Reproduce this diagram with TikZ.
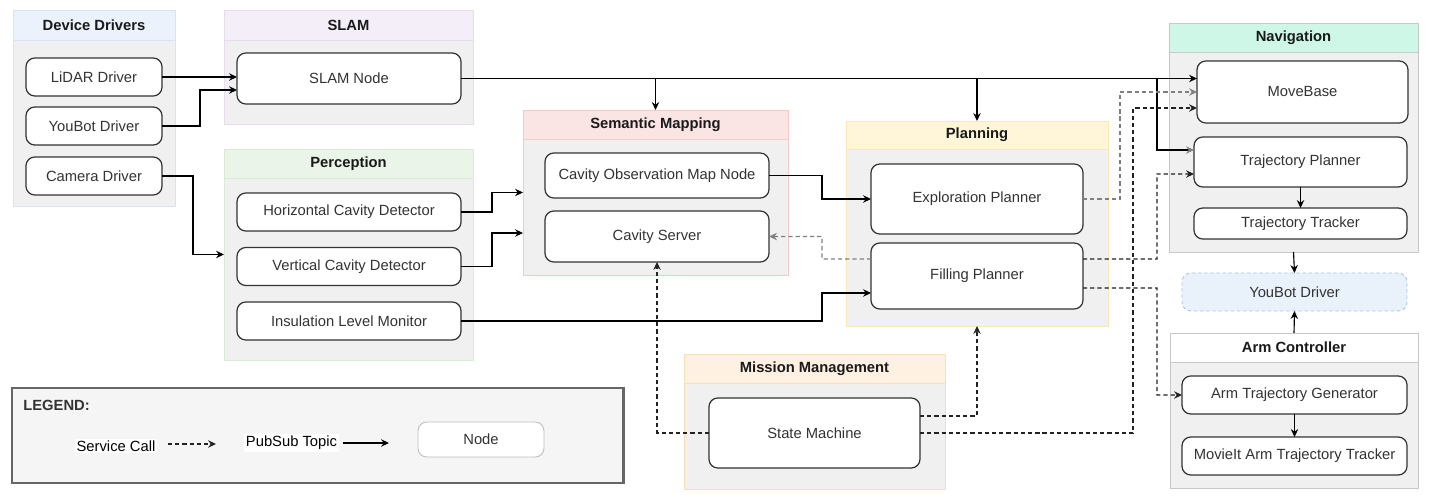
\documentclass[tikz,border=0pt]{standalone}
\usepackage{fontspec}
\setmainfont{Liberation Sans}
\usepackage{xcolor}
\usetikzlibrary{arrows.meta, positioning, calc}

\definecolor{bodygray}{HTML}{F0F0F0}
\definecolor{textgray}{HTML}{333333}
\definecolor{titlegray}{HTML}{1A1A1A}
\definecolor{nodeline}{HTML}{333333}
\definecolor{dashgray}{HTML}{222222}
\definecolor{ddhead}{HTML}{EBF2FC}
\definecolor{ddline}{HTML}{D6E4F7}
\definecolor{slamhead}{HTML}{F3EEF7}
\definecolor{slamline}{HTML}{E6DCEB}
\definecolor{perchead}{HTML}{EAF4E8}
\definecolor{percline}{HTML}{D9EAD5}
\definecolor{semhead}{HTML}{FBE4E4}
\definecolor{semline}{HTML}{F5C9C8}
\definecolor{planhead}{HTML}{FFF6DA}
\definecolor{planline}{HTML}{F9E9B8}
\definecolor{mishead}{HTML}{FFF1E2}
\definecolor{misline}{HTML}{F9DFB8}
\definecolor{navhead}{HTML}{CFF7E8}
\definecolor{grpline}{HTML}{C8C8C8}
\definecolor{ybfill}{HTML}{E9F1FB}
\definecolor{ybline}{HTML}{A9C4EB}
\definecolor{legendfill}{HTML}{F5F5F5}
\definecolor{legendline}{HTML}{666666}

\newcommand{\diagfont}{\fontsize{8.4}{10}\selectfont}

\tikzstyle{groupbox} = [
  rectangle, draw=grpline, fill=bodygray, line width=0.5pt,
  inner sep=0pt, outer sep=0pt
]
\tikzstyle{header} = [
  rectangle, draw=grpline, line width=0.5pt, anchor=north,
  minimum height=0.58cm, inner sep=0pt, outer sep=0pt,
  font=\diagfont\bfseries, text=titlegray
]
\tikzstyle{rosnode} = [
  rectangle, draw=nodeline, fill=white, line width=0.7pt,
  rounded corners=5pt, inner sep=0pt, outer sep=0pt,
  font=\diagfont, text=textgray
]
\tikzstyle{pubsub} = [-{Stealth[length=4.5pt, width=4.2pt]}, line width=0.65pt, black]
\tikzstyle{service} = [pubsub, line width=0.6pt, dash pattern=on 2.4pt off 1.7pt, draw=dashgray]

\begin{document}
\begin{tikzpicture}
  \useasboundingbox (0,0) rectangle (28.58,-10);

  % Legend
  \node[rectangle, draw=legendline, fill=legendfill, line width=1.7pt,
        minimum width=12.22cm, minimum height=1.9cm] (legend) at (6.35,-8.71) {};
  \node[anchor=west, inner sep=0pt, font=\diagfont\bfseries, text=textgray]
    (legendtitle) at (0.46,-8.1) {LEGEND:};
  \node[fill=white, inner sep=1pt, font=\diagfont, text=black] (svclabel) at (2.32,-8.92) {Service Call};
  \node[fill=white, inner sep=1pt, font=\diagfont, text=black] (pslabel) at (5.83,-8.86) {PubSub Topic};
  \coordinate (svcstart) at (3.36,-8.88);
  \coordinate (svcend) at (4.32,-8.88);
  \coordinate (psstart) at (6.86,-8.86);
  \coordinate (psend) at (7.78,-8.86);
  \node[rosnode, draw=gray!50, line width=0.5pt, minimum width=2.52cm, minimum height=0.7cm]
    (legendnode) at (9.62,-8.79) {Node};
  \draw[service] (svcstart) -- (svcend);
  \draw[pubsub] (psstart) -- (psend);

  % Device Drivers
  \node[groupbox, draw=ddline, minimum width=3.24cm, minimum height=3.92cm] (drivers) at (1.88,-2.16) {};
  \node[header, fill=ddhead, draw=ddline, minimum width=3.24cm, minimum height=0.6cm]
    (driverstitle) at (drivers.north) {Device Drivers};
  \node[rosnode, minimum width=2.72cm, minimum height=0.76cm] (lidar) at (1.88,-1.54) {LiDAR Driver};
  \node[rosnode, minimum width=2.72cm, minimum height=0.76cm] (youbot) at (1.88,-2.52) {YouBot Driver};
  \node[rosnode, minimum width=2.72cm, minimum height=0.76cm] (camera) at (1.88,-3.52) {Camera Driver};

  % SLAM
  \node[groupbox, draw=slamline, minimum width=4.98cm, minimum height=2.28cm] (slam) at (6.97,-1.34) {};
  \node[header, fill=slamhead, draw=slamline, minimum width=4.98cm, minimum height=0.6cm]
    (slamtitle) at (slam.north) {SLAM};
  \node[rosnode, minimum width=4.48cm, minimum height=1.02cm] (slamnode) at (6.98,-1.57) {SLAM Node};

  % Perception
  \node[groupbox, draw=percline, minimum width=4.98cm, minimum height=4.22cm] (perception) at (6.97,-5.09) {};
  \node[header, fill=perchead, draw=percline, minimum width=4.98cm]
    (perceptiontitle) at (perception.north) {Perception};
  \node[rosnode, minimum width=4.48cm, minimum height=0.76cm] (horizdet) at (6.98,-4.24) {Horizontal Cavity Detector};
  \node[rosnode, minimum width=4.48cm, minimum height=0.76cm] (vertdet) at (6.98,-5.33) {Vertical Cavity Detector};
  \node[rosnode, minimum width=4.48cm, minimum height=0.76cm] (insulmon) at (6.98,-6.42) {Insulation Level Monitor};

  % Semantic Mapping
  \node[groupbox, draw=semline, minimum width=5.3cm, minimum height=3.3cm] (semantic) at (13.11,-3.85) {};
  \node[header, fill=semhead, draw=semline, minimum width=5.3cm]
    (semantictitle) at (semantic.north) {Semantic Mapping};
  \node[rosnode, minimum width=4.48cm, minimum height=0.9cm] (cavobsmap) at (13.14,-3.51) {Cavity Observation Map Node};
  \node[rosnode, minimum width=4.48cm, minimum height=1.02cm] (cavserver) at (13.14,-4.73) {Cavity Server};

  % Planning
  \node[groupbox, draw=planline, minimum width=5.24cm, minimum height=4.1cm] (planning) at (19.54,-4.47) {};
  \node[header, fill=planhead, draw=planline, minimum width=5.24cm, minimum height=0.56cm]
    (planningtitle) at (planning.north) {Planning};
  \node[rosnode, minimum width=4.24cm, minimum height=1.4cm] (explplan) at (19.54,-3.98) {Exploration Planner};
  \node[rosnode, minimum width=4.24cm, minimum height=1.32cm] (fillplan) at (19.54,-5.52) {Filling Planner};

  % Mission Management
  \node[groupbox, draw=misline, minimum width=5.22cm, minimum height=2.7cm] (mission) at (16.29,-8.43) {};
  \node[header, fill=mishead, draw=misline, minimum width=5.22cm]
    (missiontitle) at (mission.north) {Mission Management};
  \node[rosnode, minimum width=4.22cm, minimum height=1.4cm] (statemach) at (16.29,-8.66) {State Machine};

  % Navigation
  \node[groupbox, minimum width=4.98cm, minimum height=4.58cm] (navigation) at (25.87,-2.75) {};
  \node[header, fill=navhead, minimum width=4.98cm]
    (navigationtitle) at (navigation.north) {Navigation};
  \node[rosnode, minimum width=4.22cm, minimum height=1.24cm] (movebase) at (26.05,-1.84) {MoveBase};
  \node[rosnode, minimum width=4.26cm, minimum height=1.0cm] (trajplan) at (26.01,-3.24) {Trajectory Planner};
  \node[rosnode, minimum width=4.26cm, minimum height=0.62cm] (trajtrack) at (26.01,-4.47) {Trajectory Tracker};

  % YouBot Driver (shared)
  \node[rosnode, draw=ybline, fill=ybfill, line width=0.5pt, dash pattern=on 2pt off 1.5pt,
        minimum width=4.5cm, minimum height=0.76cm] (youbotnav) at (25.89,-5.84) {YouBot Driver};

  % Arm Controller
  \node[groupbox, minimum width=4.96cm, minimum height=3.1cm] (armctrl) at (25.88,-8.21) {};
  \node[header, fill=white, minimum width=4.96cm]
    (armctrltitle) at (armctrl.north) {Arm Controller};
  \node[rosnode, minimum width=4.5cm, minimum height=0.76cm] (armgen) at (25.89,-7.9) {Arm Trajectory Generator};
  \node[rosnode, minimum width=4.5cm, minimum height=0.76cm] (moveittrack) at (25.89,-9.12) {MovieIt Arm Trajectory Tracker};

  % PubSub topics
  \draw[pubsub] (lidar.east) -- (lidar.east -| slamnode.west);
  \draw[pubsub] (youbot.east) -- (4.0,-2.52) |- ([yshift=-0.23cm]slamnode.west);
  \draw[pubsub] (camera.east) -- (3.86,-3.52) |- (perception.west);
  \draw[pubsub] (horizdet.east) -- (9.84,-4.24) |- (semantic.west);
  \draw[pubsub] (vertdet.east) -- (9.84,-5.33) |- ([yshift=-0.81cm]semantic.west);
  \draw[pubsub] (cavobsmap.east) -- (16.44,-3.51) |- (explplan.west);
  \draw[pubsub] (insulmon.east) -- (16.44,-6.42) |- ([yshift=-0.34cm]fillplan.west);

  \draw[pubsub] (slamnode.east) -- (slamnode.east -| movebase.west);
  \draw[pubsub] (slamnode.east -| semantic.north) -- (semantic.north);
  \draw[pubsub] (slamnode.east -| planning.north) -- (planning.north);
  \draw[pubsub, -{Stealth[length=4.5pt, width=4.2pt, color=gray]}]
    (23.14,-1.57) |- ([yshift=0.24cm]trajplan.west);

  \draw[pubsub] (trajplan.south) -- (trajtrack.north);
  \draw[pubsub] (navigation.south) -- (youbotnav.north);
  \draw[pubsub] (armctrl.north) -- (youbotnav.south);
  \draw[pubsub] (armgen.south) -- (moveittrack.north);

  % Service calls
  \draw[service, draw=gray] ([yshift=0.34cm]fillplan.west) -- (16.44,-5.18) |- (cavserver.east);
  \draw[service] (statemach.west) -| (cavserver.south);
  \draw[service] ([yshift=0.34cm]statemach.east) -| (planning.south);
  \draw[service] (statemach.east) -- (22.66,-8.66) |- ([yshift=-0.32cm]movebase.west);
  \draw[service, draw=gray] (explplan.east) -- (22.4,-3.98) |- (movebase.west);
  \draw[service] ([yshift=0.34cm]fillplan.east) -- (23.14,-5.18) |- ([yshift=-0.24cm]trajplan.west);
  \draw[service] ([yshift=-0.24cm]fillplan.east) -- (23.14,-5.76) |- (armgen.west);

\end{tikzpicture}
\end{document}
